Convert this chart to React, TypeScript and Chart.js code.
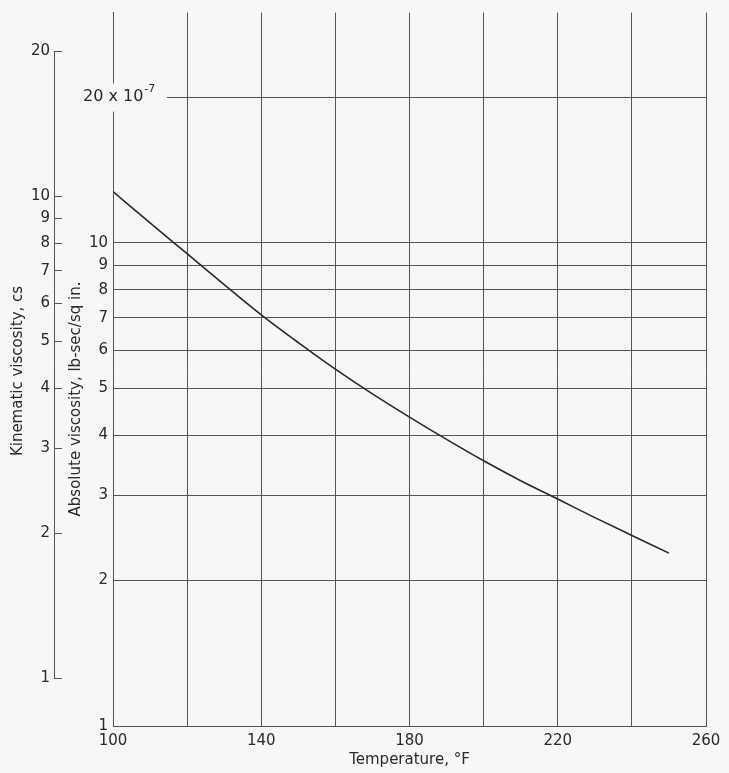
import React, { useEffect, useRef } from 'react';
import { Chart, registerables } from 'chart.js';

Chart.register(...registerables);

// Curve: absolute viscosity (x10^-7 lb-sec/sq in.) vs temperature (°F)
const temperatureF = [100, 110, 120, 130, 140, 150, 160, 170, 180, 190, 200, 210, 220, 230, 240, 250];
const absoluteViscosity = [12.78, 11.0, 9.5, 8.2, 7.1, 6.22, 5.48, 4.87, 4.36, 3.92, 3.54, 3.22, 2.95, 2.7, 2.48, 2.28];

// Axes
const xGridValues = [100, 120, 140, 160, 180, 200, 220, 240, 260];
const xLabelValues = [100, 140, 180, 220, 260];
const absTickValues = [1, 2, 3, 4, 5, 6, 7, 8, 9, 10, 20];
const kinTickValues = [1, 2, 3, 4, 5, 6, 7, 8, 9, 10, 20];
const X_MIN = 100;
const X_MAX = 260;
const ABS_MIN = 1;
const ABS_MAX = 30;
const KIN_MIN = 0.796;
const KIN_MAX = 24.07;
const KIN_AXIS_FROM = 1;
const KIN_AXIS_TO = 20;

const xTitle = 'Temperature, °F';
const absTitle = 'Absolute viscosity, lb-sec/sq in.';
const kinTitle = 'Kinematic viscosity, cs';
const absTopLabel = '20 x 10';
const absTopExp = '-7';

const PAPER = '#f7f7f5';
const INK = '#2a2a2a';
const GRID = '#555555';
const FONT = '"DejaVu Sans", sans-serif';

const decorPlugin = {
  id: 'decor',
  beforeDraw(chart: any) {
    const ctx = chart.ctx;
    ctx.save();
    ctx.fillStyle = PAPER;
    ctx.fillRect(0, 0, chart.width, chart.height);
    ctx.restore();
  },
  afterDraw(chart: any) {
    const ctx = chart.ctx;
    const abs = chart.scales.yAbs;
    const kin = chart.scales.yKin;
    ctx.save();
    // kinematic axis spine (from 1 to 20 only)
    const kx = Math.round(kin.right - 8) + 0.5;
    ctx.strokeStyle = GRID;
    ctx.lineWidth = 1;
    ctx.beginPath();
    ctx.moveTo(kx, kin.getPixelForValue(KIN_AXIS_TO));
    ctx.lineTo(kx, kin.getPixelForValue(KIN_AXIS_FROM));
    ctx.stroke();

    // label 20 x 10^-7 sitting over the grid
    const y20 = abs.getPixelForValue(20);
    ctx.fillStyle = PAPER;
    ctx.fillRect(abs.right - 35, y20 - 14, 89, 28);
    ctx.fillStyle = INK;
    ctx.font = '16px ' + FONT;
    ctx.textAlign = 'left';
    ctx.textBaseline = 'middle';
    const lx = abs.right - 30;
    ctx.fillText(absTopLabel, lx, y20 - 1);
    const w = ctx.measureText(absTopLabel).width;
    ctx.font = '11px ' + FONT;
    ctx.fillText(absTopExp, lx + w + 1, y20 - 8);

    // y axis titles
    ctx.font = '15px ' + FONT;
    ctx.textAlign = 'center';
    ctx.textBaseline = 'middle';
    ctx.save();
    ctx.translate(18, 371);
    ctx.rotate(-Math.PI / 2);
    ctx.fillText(kinTitle, 0, 0);
    ctx.restore();
    ctx.save();
    ctx.translate(76, 399);
    ctx.rotate(-Math.PI / 2);
    ctx.fillText(absTitle, 0, 0);
    ctx.restore();
    ctx.restore();
  },
};

export default function App() {
  const canvasRef = useRef<HTMLCanvasElement | null>(null);

  useEffect(() => {
    const canvas = canvasRef.current;
    if (!canvas) return;
    const data = temperatureF.map((t, i) => ({ x: t, y: absoluteViscosity[i] }));
    const chart = new Chart(canvas, {
      type: 'line',
      data: {
        datasets: [
          {
            data,
            xAxisID: 'x',
            yAxisID: 'yAbs',
            borderColor: INK,
            borderWidth: 1.6,
            pointRadius: 0,
            cubicInterpolationMode: 'monotone',
            fill: false,
          },
        ],
      },
      options: {
        responsive: false,
        animation: false,
        devicePixelRatio: 1,
        layout: { padding: { top: 9, right: 23, left: 0, bottom: 0 } },
        plugins: { legend: { display: false }, tooltip: { enabled: false } },
        scales: {
          x: {
            type: 'linear',
            position: 'bottom',
            min: X_MIN,
            max: X_MAX,
            afterBuildTicks: (s: any) => {
              s.ticks = xGridValues.map((v) => ({ value: v }));
            },
            afterFit: (s: any) => {
              s.height = 47;
            },
            grid: { color: GRID, lineWidth: 1, drawTicks: false },
            border: { display: true, color: GRID, width: 1 },
            ticks: {
              autoSkip: false,
              maxRotation: 0,
              padding: 6,
              color: INK,
              font: { family: FONT, size: 15 },
              callback: (v: any) => (xLabelValues.includes(Number(v)) ? String(v) : ''),
            },
            title: {
              display: true,
              text: xTitle,
              color: INK,
              font: { family: FONT, size: 15 },
              padding: { top: 0, bottom: 4 },
            },
          },
          yAbs: {
            type: 'logarithmic',
            position: 'left',
            weight: 0,
            min: ABS_MIN,
            max: ABS_MAX,
            afterBuildTicks: (s: any) => {
              s.ticks = absTickValues.map((v) => ({ value: v }));
            },
            afterFit: (s: any) => {
              s.width = 51;
            },
            grid: { color: GRID, lineWidth: 1, drawTicks: false },
            border: { display: true, color: GRID, width: 1 },
            ticks: {
              autoSkip: false,
              padding: 5,
              color: INK,
              font: { family: FONT, size: 15, lineHeight: 1 },
              callback: (v: any) => (Number(v) === 20 ? '' : String(v)),
            },
          },
          yKin: {
            type: 'logarithmic',
            position: 'left',
            weight: 1,
            min: KIN_MIN,
            max: KIN_MAX,
            afterBuildTicks: (s: any) => {
              s.ticks = kinTickValues.map((v) => ({ value: v }));
            },
            afterFit: (s: any) => {
              s.width = 62;
            },
            grid: { display: true, drawOnChartArea: false, drawTicks: true, tickLength: 8, color: GRID, lineWidth: 1 },
            border: { display: false },
            ticks: {
              autoSkip: false,
              padding: 4,
              color: INK,
              font: { family: FONT, size: 15, lineHeight: 1 },
              callback: (v: any) => String(v),
            },
          },
        },
      } as any,
      plugins: [decorPlugin],
    });
    return () => chart.destroy();
  }, []);

  return (
    <div style={{ position: 'absolute', left: 0, top: 0, width: 729, height: 773 }}>
      <canvas ref={canvasRef} width={729} height={773} style={{ display: 'block' }} />
    </div>
  );
}
